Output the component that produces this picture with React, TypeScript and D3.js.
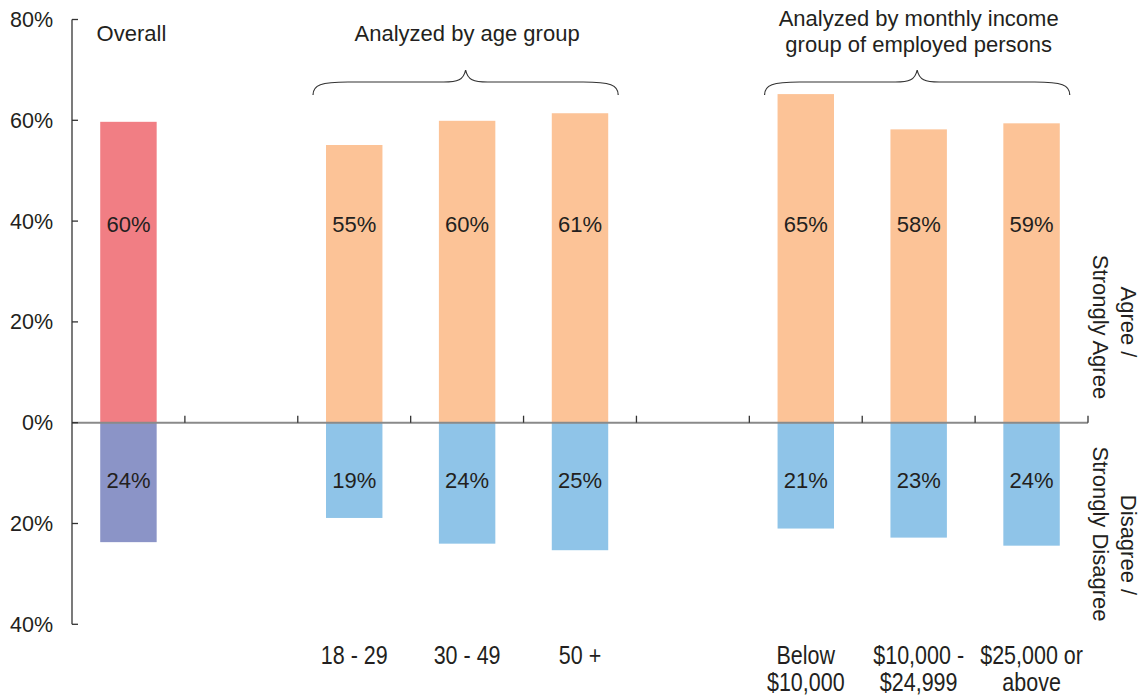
import React from "react";
import * as d3 from "d3";

// Slots along the category axis; the "_gap" entries are empty spacer columns.
const xSlots = [
  "Overall",
  "_gap1",
  "18 - 29",
  "30 - 49",
  "50 +",
  "_gap2",
  "Below\n$10,000",
  "$10,000 -\n$24,999",
  "$25,000 or\nabove",
];

const categories = [
  "Overall",
  "18 - 29",
  "30 - 49",
  "50 +",
  "Below\n$10,000",
  "$10,000 -\n$24,999",
  "$25,000 or\nabove",
];

// Share answering "Agree / Strongly Agree" (%)
const agreeValues = [59.7, 55.1, 59.9, 61.4, 65.2, 58.2, 59.4];
// Share answering "Disagree / Strongly Disagree" (%)
const disagreeValues = [23.7, 18.9, 24.0, 25.3, 21.0, 22.8, 24.4];

const yTicks = [-40, -20, 0, 20, 40, 60, 80];

// Header groups: title lines and the first/last category each one spans
const groupTitles = [
  ["Overall"],
  ["Analyzed by age group"],
  ["Analyzed by monthly income", "group of employed persons"],
];
const groupFirst = ["Overall", "18 - 29", "Below\n$10,000"];
const groupLast = ["Overall", "50 +", "$25,000 or\nabove"];

const sideLabels = [
  { lines: ["Agree /", "Strongly Agree"], centers: [322, 327] },
  { lines: ["Disagree /", "Strongly Disagree"], centers: [545, 534] },
];

const W = 1141;
const H = 697;
const FONT = "'Liberation Sans', Arial, Helvetica, sans-serif";
const TEXT = "#231f20";

const overallAgree = "#f17e84";
const overallDisagree = "#8b94c7";
const agreeColor = "#fcc397";
const disagreeColor = "#8fc4e8";

function bracePath(x0: number, x1: number, yTip: number, yFlat: number, yEnd: number) {
  const cx = (x0 + x1) / 2;
  return [
    `M${x0},${yEnd}`,
    `C${x0},${yFlat + 3} ${x0 + 8},${yFlat} ${x0 + 35},${yFlat}`,
    `L${cx - 22},${yFlat}`,
    `C${cx - 8},${yFlat} ${cx - 2},${yFlat - 2} ${cx},${yTip}`,
    `C${cx + 2},${yFlat - 2} ${cx + 8},${yFlat} ${cx + 22},${yFlat}`,
    `L${x1 - 35},${yFlat}`,
    `C${x1 - 8},${yFlat} ${x1},${yFlat + 3} ${x1},${yEnd}`,
  ].join(" ");
}

export default function App() {
  const x = d3
    .scaleBand<string>()
    .domain(xSlots)
    .range([72, 1088])
    .paddingInner(0.5)
    .paddingOuter(0.25);

  const y = d3.scaleLinear().domain([-40, 80]).range([624.3, 19.5]);

  const bw = x.bandwidth();
  const step = x.step();
  const x0 = 72;
  const zeroY = y(0);

  return (
    <svg
      width={W}
      height={H}
      viewBox={`0 0 ${W} ${H}`}
      style={{ position: "absolute", left: 0, top: 0, background: "#fff" }}
      fontFamily={FONT}
    >
      {/* bars */}
      {categories.map((c, i) => {
        const bx = x(c)!;
        return (
          <g key={c}>
            <rect
              x={bx}
              y={y(agreeValues[i])}
              width={bw}
              height={zeroY - y(agreeValues[i])}
              fill={i === 0 ? overallAgree : agreeColor}
            />
            <rect
              x={bx}
              y={zeroY}
              width={bw}
              height={y(-disagreeValues[i]) - zeroY}
              fill={i === 0 ? overallDisagree : disagreeColor}
            />
          </g>
        );
      })}

      {/* value labels */}
      {categories.map((c, i) => {
        const cx = x(c)! + bw / 2;
        return (
          <g key={"lbl" + c} fontSize={22} fill={TEXT} textAnchor="middle">
            <text x={cx} y={y(39.5) + 8}>
              {Math.round(agreeValues[i])}%
            </text>
            <text x={cx} y={y(-11.4) + 8}>
              {Math.round(disagreeValues[i])}%
            </text>
          </g>
        );
      })}

      {/* zero baseline with category ticks */}
      <line x1={x0} x2={1088} y1={zeroY} y2={zeroY} stroke="#8a8a8a" strokeWidth={2} />
      {xSlots.map((s, i) => {
        const tx = x0 + step * (i + 1);
        return (
          <line
            key={"xt" + s}
            x1={tx}
            x2={tx}
            y1={zeroY - 7}
            y2={zeroY}
            stroke="#333"
            strokeWidth={1.3}
          />
        );
      })}

      {/* value axis */}
      <line x1={x0} x2={x0} y1={y(80)} y2={y(-40)} stroke="#333" strokeWidth={1.3} />
      {yTicks.map((t) => (
        <g key={"yt" + t}>
          <line x1={x0} x2={x0 + 6} y1={y(t)} y2={y(t)} stroke="#333" strokeWidth={1.3} />
          <text
            x={53}
            y={y(t) + 7.5}
            textAnchor="end"
            fontSize={21.5}
            fill={TEXT}
          >
            {Math.abs(t)}%
          </text>
        </g>
      ))}

      {/* bottom category labels, set in a condensed width */}
      {categories.slice(1).map((c) => {
        const cx = x(c)! + bw / 2;
        return (
          <g key={"cat" + c} transform={`translate(${cx},0) scale(0.86,1)`}>
            <text textAnchor="middle" fontSize={25} fill={TEXT}>
              {c.split("\n").map((line, j) => (
                <tspan key={j} x={0} y={664 + j * 27}>
                  {line}
                </tspan>
              ))}
            </text>
          </g>
        );
      })}

      {/* group headers and braces */}
      {groupTitles.map((lines, g) => {
        const left = x(groupFirst[g])!;
        const right = x(groupLast[g])! + bw;
        const cx = (left + right) / 2;
        const n = lines.length;
        return (
          <g key={"grp" + g}>
            <text textAnchor="middle" fontSize={22} fill={TEXT}>
              {lines.map((line, j) => (
                <tspan key={j} x={n === 1 && g === 0 ? cx + 3 : cx} y={41 - (n - 1) * 15 + j * 26}>
                  {line}
                </tspan>
              ))}
            </text>
            {groupFirst[g] !== groupLast[g] && (
              <path
                d={bracePath(left - 13, right + 10, 70, 82, 95)}
                fill="none"
                stroke="#333"
                strokeWidth={1.2}
              />
            )}
          </g>
        );
      })}

      {/* rotated side captions */}
      {sideLabels.map((s) =>
        s.lines.map((line, j) => (
          <text
            key={line}
            transform={`translate(${j === 0 ? 1121 : 1093},${s.centers[j]}) rotate(90)`}
            textAnchor="middle"
            fontSize={22}
            fill={TEXT}
          >
            {line}
          </text>
        ))
      )}
    </svg>
  );
}
